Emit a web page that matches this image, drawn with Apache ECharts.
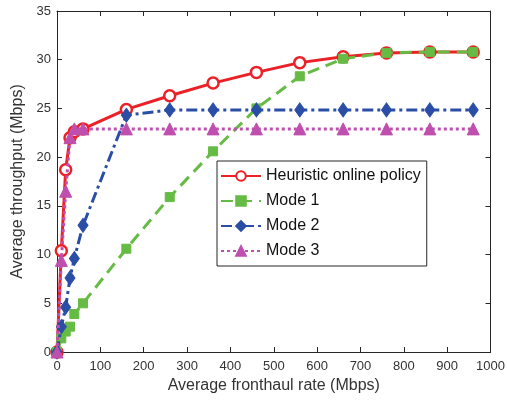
<!DOCTYPE html>
<html lang="en" style="height: 100%">
<head>
  <meta charset="utf-8">
</head>
<body style="height: 100%; margin: 0">
  <div id="container" style="height: 100%"></div>

  <script type="text/javascript" src="https://cdn.jsdelivr.net/npm/echarts@6/dist/echarts.min.js"></script>

  <script type="text/javascript">
    var dom = document.getElementById('container');
    var myChart = echarts.init(dom, null, {
      renderer: 'canvas',
      useDirtyRect: false
    });

    // average fronthaul rate (Mbps)
    const rates = [0, 10, 20, 30, 40, 60, 160, 260, 360, 460, 560, 660, 760, 860, 960];
    // average throughput (Mbps)
    const heuristic = [0, 10.4, 18.7, 22.0, 22.6, 22.9, 24.9, 26.3, 27.6, 28.7, 29.7, 30.3, 30.7, 30.8, 30.8];
    const mode1 = [0, 1.4, 2.1, 2.6, 3.9, 5.0, 10.6, 15.9, 20.6, 25.0, 28.3, 30.1, 30.7, 30.8, 30.8];
    const mode2 = [0, 2.6, 4.6, 7.6, 9.6, 13.0, 24.3, 24.85, 24.85, 24.85, 24.85, 24.85, 24.85, 24.85, 24.85];
    const mode3 = [0, 9.4, 16.5, 22.0, 22.9, 22.9, 22.9, 22.9, 22.9, 22.9, 22.9, 22.9, 22.9, 22.9, 22.9];

    const font = 'Liberation Sans, Arial, sans-serif';
    const axisColor = '#262626';

    function pairs(ys) {
      return rates.map(function (x, i) { return [x, ys[i]]; });
    }

    var option = {
      animation: false,
      backgroundColor: '#fff',
      textStyle: { fontFamily: font },
      grid: { left: 57, right: 17, top: 11, bottom: 50 },
      legend: {
        orient: 'vertical',
        left: 217,
        top: 161,
        width: 232,
        itemWidth: 40,
        itemHeight: 12,
        itemGap: 9,
        padding: [7, 6, 7, 3],
        borderColor: axisColor,
        borderWidth: 1,
        backgroundColor: '#fff',
        textStyle: { fontSize: 16, color: '#111', fontFamily: font },
        data: ['Heuristic online policy', 'Mode 1', 'Mode 2', 'Mode 3']
      },
      xAxis: [
        {
          type: 'value',
          min: 0,
          max: 1000,
          interval: 100,
          name: 'Average fronthaul rate (Mbps)',
          nameLocation: 'middle',
          nameGap: 25,
          nameTextStyle: { fontSize: 16, color: '#333', fontFamily: font },
          axisLine: { show: true, onZero: false, lineStyle: { color: axisColor, width: 1 } },
          axisTick: { show: true, inside: true, length: 5, lineStyle: { color: axisColor } },
          axisLabel: { fontSize: 13, color: '#333', margin: 8, formatter: function (v) { return String(v); } },
          splitLine: { show: false }
        },
        {
          type: 'value',
          position: 'top',
          min: 0,
          max: 1000,
          interval: 100,
          axisLine: { show: true, onZero: false, lineStyle: { color: axisColor, width: 1 } },
          axisTick: { show: true, inside: true, length: 5, lineStyle: { color: axisColor } },
          axisLabel: { show: false },
          splitLine: { show: false }
        }
      ],
      yAxis: [
        {
          type: 'value',
          min: 0,
          max: 35,
          interval: 5,
          name: 'Average throughput (Mbps)',
          nameLocation: 'middle',
          nameGap: 27,
          nameTextStyle: { fontSize: 16, color: '#333', fontFamily: font },
          axisLine: { show: true, onZero: false, lineStyle: { color: axisColor, width: 1 } },
          axisTick: { show: true, inside: true, length: 5, lineStyle: { color: axisColor } },
          axisLabel: { fontSize: 13, color: '#333', margin: 6 },
          splitLine: { show: false }
        },
        {
          type: 'value',
          position: 'right',
          min: 0,
          max: 35,
          interval: 5,
          axisLine: { show: true, onZero: false, lineStyle: { color: axisColor, width: 1 } },
          axisTick: { show: true, inside: true, length: 5, lineStyle: { color: axisColor } },
          axisLabel: { show: false },
          splitLine: { show: false }
        }
      ],
      series: [
        {
          name: 'Heuristic online policy',
          type: 'line',
          data: pairs(heuristic),
          symbol: 'circle',
          symbolSize: 11,
          color: '#ec2027',
          lineStyle: { width: 3, color: '#ec2027' },
          itemStyle: { color: '#ffffff', borderColor: '#ec2027', borderWidth: 2.5 },
          z: 1
        },
        {
          name: 'Mode 1',
          type: 'line',
          data: pairs(mode1),
          symbol: 'rect',
          symbolSize: 9,
          color: '#66bb44',
          lineStyle: { width: 3, type: [12, 7], color: '#66bb44' },
          itemStyle: { color: '#66bb44', borderColor: '#66bb44', borderWidth: 1 },
          z: 2
        },
        {
          name: 'Mode 2',
          type: 'line',
          data: pairs(mode2),
          symbol: 'diamond',
          symbolSize: [10, 14],
          color: '#2a4ea6',
          lineStyle: { width: 3, type: [11, 4, 3, 4], color: '#2a4ea6' },
          itemStyle: { color: '#2a4ea6', borderColor: '#2a4ea6', borderWidth: 1 },
          z: 3
        },
        {
          name: 'Mode 3',
          type: 'line',
          data: pairs(mode3),
          symbol: 'triangle',
          symbolSize: 12,
          color: '#bf4fae',
          lineStyle: { width: 3, type: [3, 3], color: '#bf4fae' },
          itemStyle: { color: '#bf4fae', borderColor: '#bf4fae', borderWidth: 1 },
          z: 4
        }
      ]
    };

    myChart.setOption(option);

    window.addEventListener('resize', myChart.resize);
  </script>
</body>
</html>
